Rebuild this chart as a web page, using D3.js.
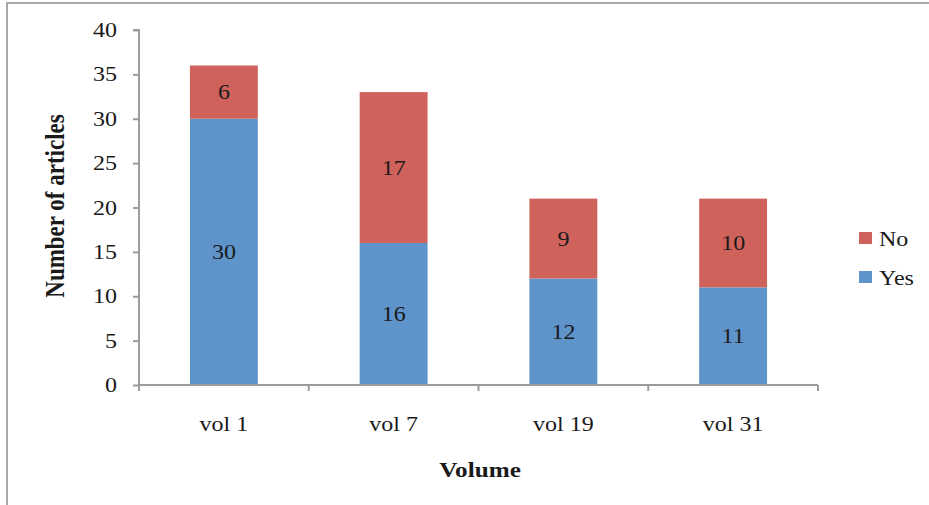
<!DOCTYPE html>
<html>
<head>
<meta charset="utf-8">
<script src="https://cdn.jsdelivr.net/npm/d3@7"></script>
<style>
  html, body { margin: 0; padding: 0; background: #fff; }
  svg { display: block; }
  text { font-family: "Liberation Serif", "Times New Roman", serif; fill: #1a1a1a; }
</style>
</head>
<body>
<script>
// Articles per volume, split by answer
const volumes = ["vol 1", "vol 7", "vol 19", "vol 31"];
const yesCounts = [30, 16, 12, 11];
const noCounts = [6, 17, 9, 10];
const seriesNames = ["Yes", "No"];
const seriesColors = ["#5e94ca", "#cf625a"];
const yTicks = [0, 5, 10, 15, 20, 25, 30, 35, 40];

const W = 929, H = 505;
const plot = { left: 139, right: 818, top: 30, bottom: 385 };
const stretch = 1.2; // horizontal text widening

const svg = d3.select("body").append("svg").attr("width", W).attr("height", H);

// outer frame
svg.append("rect")
  .attr("x", 7).attr("y", 3).attr("width", W + 10).attr("height", H + 10)
  .attr("fill", "none").attr("stroke", "#a8a8a8").attr("stroke-width", 2);

const x = d3.scaleBand().domain(volumes).range([plot.left, plot.right]).padding(0);
const y = d3.scaleLinear().domain([0, 40]).range([plot.bottom, plot.top]);
const barW = x.bandwidth() * 0.4;

const rows = volumes.map((v, i) => ({ vol: v, Yes: yesCounts[i], No: noCounts[i] }));
const stacked = d3.stack().keys(seriesNames)(rows);

function label(g, tx, ty, str, opts = {}) {
  const t = g.append("text")
    .attr("transform", `translate(${tx},${ty}) scale(${stretch},1)` + (opts.rotate ? ` rotate(${opts.rotate})` : ""))
    .attr("text-anchor", opts.anchor || "middle")
    .style("font-size", (opts.size || 20) + "px")
    .style("font-weight", opts.bold ? "bold" : "normal")
    .text(str);
  if (opts.baseline) t.attr("dominant-baseline", opts.baseline);
  return t;
}

// bars
stacked.forEach((layer, si) => {
  svg.append("g").selectAll("rect").data(layer).join("rect")
    .attr("x", d => x(d.data.vol) + (x.bandwidth() - barW) / 2)
    .attr("width", barW)
    .attr("y", d => y(d[1]))
    .attr("height", d => y(d[0]) - y(d[1]))
    .attr("fill", seriesColors[si]);
});

// value labels
const lbl = svg.append("g");
stacked.forEach(layer => {
  layer.forEach(d => {
    label(lbl, x(d.data.vol) + x.bandwidth() / 2, (y(d[0]) + y(d[1])) / 2 + 7, String(d[1] - d[0]));
  });
});

// y axis
const axisColor = "#9c9c9c";
const yAxis = svg.append("g").attr("transform", `translate(${plot.left},0)`)
  .call(d3.axisLeft(y).tickValues(yTicks).tickSize(6).tickFormat(""));
yAxis.select(".domain").attr("stroke", axisColor).attr("stroke-width", 2).attr("d", `M-6,${plot.top}H0V${plot.bottom}`);
yAxis.selectAll(".tick line").attr("stroke", axisColor).attr("stroke-width", 2);
yTicks.forEach(v => label(svg, 117, y(v) + 7, String(v), { anchor: "end" }));

// x axis
const xAxis = svg.append("g").attr("transform", `translate(0,${plot.bottom})`);
xAxis.append("line").attr("x1", plot.left).attr("x2", plot.right)
  .attr("stroke", axisColor).attr("stroke-width", 2);
const xBounds = volumes.map(v => x(v)).concat([plot.right]);
xAxis.selectAll("line.tk").data(xBounds).join("line").attr("class", "tk")
  .attr("x1", d => d).attr("x2", d => d).attr("y1", 0).attr("y2", 6)
  .attr("stroke", axisColor).attr("stroke-width", 2);
volumes.forEach(v => label(svg, x(v) + x.bandwidth() / 2, 431, v));

// axis titles
label(svg, 480, 477, "Volume", { size: 21, bold: true });
label(svg, 64, 206, "Number of articles", { size: 23, bold: true, rotate: -90 });

// legend
const legendItems = [{ name: "No", color: seriesColors[1], cy: 238 }, { name: "Yes", color: seriesColors[0], cy: 277 }];
legendItems.forEach(it => {
  svg.append("rect").attr("x", 859).attr("y", it.cy - 6).attr("width", 13).attr("height", 12).attr("fill", it.color);
  label(svg, 879, it.cy + 8, it.name, { anchor: "start" });
});
</script>
</body>
</html>
